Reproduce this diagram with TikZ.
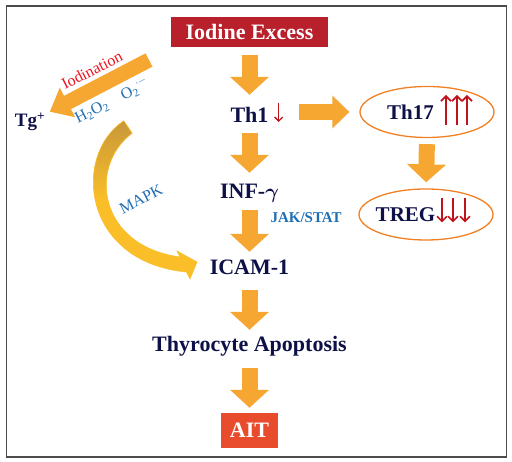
\documentclass[tikz,border=0pt]{standalone}
\usepackage{fontspec}
\setmainfont{Liberation Serif}
\usepackage{amsmath, amssymb}
\usetikzlibrary{arrows.meta, shapes.geometric}

\definecolor{navy}{RGB}{14,16,72}
\definecolor{boxred}{RGB}{184,32,44}
\definecolor{aitred}{RGB}{233,76,44}
\definecolor{arrowfill}{RGB}{245,167,50}
\definecolor{ringorange}{RGB}{240,128,36}
\definecolor{pathblue}{RGB}{30,110,180}
\definecolor{trendred}{RGB}{192,20,28}
\definecolor{iodred}{RGB}{236,20,30}
\definecolor{mapktop}{RGB}{200,152,58}
\definecolor{mapkbot}{RGB}{250,190,40}

\begin{document}
\begin{tikzpicture}[x=1pt, y=1pt,
    stage/.style={text=navy, font=\bfseries\fontsize{22}{24}\selectfont, inner sep=0pt, text height=14pt, text depth=4pt, anchor=base},
    banner/.style={text=white, font=\bfseries\fontsize{22}{24}\selectfont, inner sep=0pt},
    cell/.style={ellipse, draw=ringorange, line width=1.3pt, minimum width=134pt, minimum height=51pt, inner sep=0pt, text=navy, font=\bfseries\fontsize{21}{24}\selectfont},
    fat/.style={arrowfill, line width=16pt, -{Triangle[length=18pt, width=38pt]}},
    tag/.style={text=pathblue, font=\fontsize{16}{18}\selectfont},
    trend/.style={trendred, line width=1.7pt, -{Straight Barb[length=5pt, width=10pt]}}
]
    \useasboundingbox (0,0) rectangle (512,462);
    \draw[black!70, line width=1.5pt] (6.5,5) rectangle (506.5,456);

    \node[banner, fill=boxred, minimum width=157pt, minimum height=30pt] (exc) at (249.5,430) {Iodine Excess};
    \node[stage] (th1) at (249.5,339) {Th1};
    \node[stage] (inf) at (249.5,263) {INF-$\boldsymbol{\gamma}$};
    \node[stage] (icam) at (249.5,187) {ICAM-1};
    \node[stage] (apo) at (249.5,110) {Thyrocyte Apoptosis};
    \node[banner, fill=aitred, minimum width=57pt, minimum height=35pt] (ait) at (249.5,31.5) {AIT};
    \node[cell] (th17) at (427,350) {\makebox[0pt]{Th17\kern33pt}};
    \node[cell] (treg) at (426,247.5) {\makebox[0pt]{TREG\kern41pt}};
    \node[stage, font=\bfseries\fontsize{19}{22}\selectfont] (tg) at (30,335) {Tg\textsuperscript{+}};
    \coordinate (iod) at (149,402);

    \draw[fat, shorten <=8pt, shorten >=14pt] (exc.south) -- (th1.north);
    \draw[fat, shorten <=6pt, shorten >=12pt] (th1.south) -- (inf.north);
    \draw[fat, shorten <=7pt, shorten >=9pt] (inf.south) -- (icam.north);
    \draw[fat, shorten <=11pt, shorten >=8pt] (icam.south) -- (apo.north);
    \draw[fat, shorten <=12pt, shorten >=5pt] (apo.south) -- (ait.north);
    \draw[fat, -{Triangle[length=17pt, width=32pt]}, shorten <=30pt, shorten >=10pt] (th1.east |- th17.west) -- (th17.west);
    \draw[fat, shorten <=6pt, shorten >=6pt] (th17.south) -- (treg.north);
    \draw[fat, line width=15pt, -{Triangle[length=20pt, width=32pt]}, shorten >=5pt] (iod) -- (tg);

    \shade[top color=mapktop, bottom color=mapkbot, middle color=mapkbot, draw=mapkbot, line width=0.6pt]
        (123.8,341.2) .. controls (72,307) and (82,200) .. (186.5,190) -- (190,183) -- (197,200)
        -- (177,211) -- (180,205) .. controls (98,216) and (88,296) .. (132.2,328.8) -- cycle;

    \draw[trend, line width=1.3pt, -{Straight Barb[length=4pt, width=8pt]}] ([xshift=10pt, yshift=15pt]th1.east) -- ([xshift=10pt, yshift=-4pt]th1.east);
    \foreach \dx in {19,30,40}
        \draw[trend] ([xshift=\dx pt, yshift=-13pt]th17.center) -- ++(0,30);
    \foreach \dx in {16,27,39}
        \draw[trend] ([xshift=\dx pt, yshift=16pt]treg.center) -- ++(0,-24);

    \node[tag, text=iodred, rotate=27] (iodlbl) at (92,392) {Iodination};
    \node[tag, rotate=27] (rox) at (112,361) {H\textsubscript{2}O\textsubscript{2}\quad O\textsubscript{2}$^{\cdot-}$};
    \node[tag, rotate=27] (mapk) at (141,263) {MAPK};
    \node[tag, font=\bfseries\fontsize{15}{17}\selectfont, anchor=base west] (jak) at (267,239) {JAK/STAT};
\end{tikzpicture}
\end{document}
